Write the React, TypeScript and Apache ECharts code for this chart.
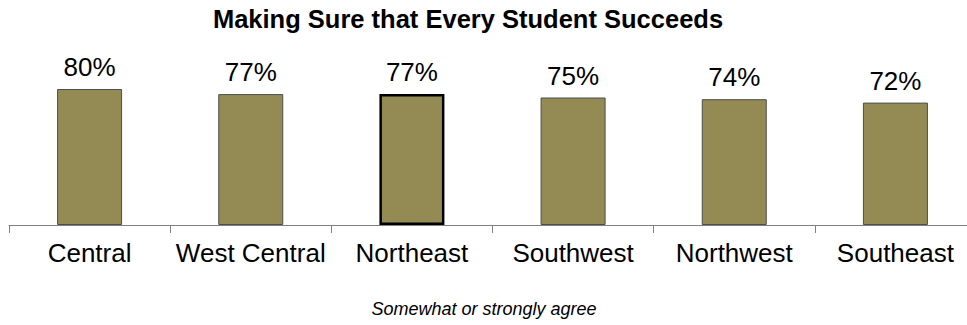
import React, { useEffect, useRef } from "react";
import * as echarts from "echarts";

const TITLE = "Making Sure that Every Student Succeeds";
const SUBTITLE = "Somewhat or strongly agree";
const categories = ["Central", "West Central", "Northeast", "Southwest", "Northwest", "Southeast"];
const values = [80, 77, 77, 75, 74, 72];
const highlighted = "Northeast";

export default function App() {
  const ref = useRef<HTMLDivElement>(null);
  useEffect(() => {
    if (!ref.current) return;
    const chart = echarts.init(ref.current, null, { renderer: "svg" });
    chart.setOption({
      animation: false,
      backgroundColor: "#ffffff",
      title: [
        {
          text: TITLE,
          left: 468,
          textAlign: "center",
          top: 6,
          padding: 0,
          textStyle: { fontFamily: "Liberation Sans, Arial", fontSize: 25.5, fontWeight: "bold", color: "#000" },
        },
        {
          text: SUBTITLE,
          left: 484,
          textAlign: "center",
          top: 300,
          padding: 0,
          textStyle: { fontFamily: "Liberation Sans, Arial", fontSize: 18, fontStyle: "italic", fontWeight: "normal", color: "#000" },
        },
      ],
      grid: { left: 9, width: 967, top: 55, height: 170, containLabel: false },
      xAxis: {
        type: "category",
        data: categories,
        axisLine: { show: true, lineStyle: { color: "#808080", width: 1 } },
        axisTick: { show: true, length: 8, lineStyle: { color: "#808080" } },
        axisLabel: { fontFamily: "Liberation Sans, Arial", fontSize: 26, color: "#000", margin: 15, interval: 0 },
      },
      yAxis: { type: "value", min: 0, max: 100, show: false, splitLine: { show: false } },
      series: [
        {
          type: "bar",
          barWidth: 65,
          data: values.map((v, i) => ({
            value: v,
            itemStyle:
              categories[i] === highlighted
                ? { color: "#948A54", borderColor: "#000000", borderWidth: 2.5 }
                : { color: "#948A54", borderColor: "#4d4d4d", borderWidth: 1 },
          })),
          label: {
            show: true,
            position: "top",
            distance: 9,
            formatter: "{c}%",
            fontFamily: "Liberation Sans, Arial",
            fontSize: 26,
            color: "#000",
          },
        },
      ],
    });
    return () => chart.dispose();
  }, []);
  return (
    <div style={{ position: "fixed", left: 0, top: 0, width: 967, height: 325, overflow: "hidden", background: "#fff" }}>
      <div ref={ref} style={{ position: "absolute", left: 0, top: 0, width: 1000, height: 325 }} />
    </div>
  );
}
